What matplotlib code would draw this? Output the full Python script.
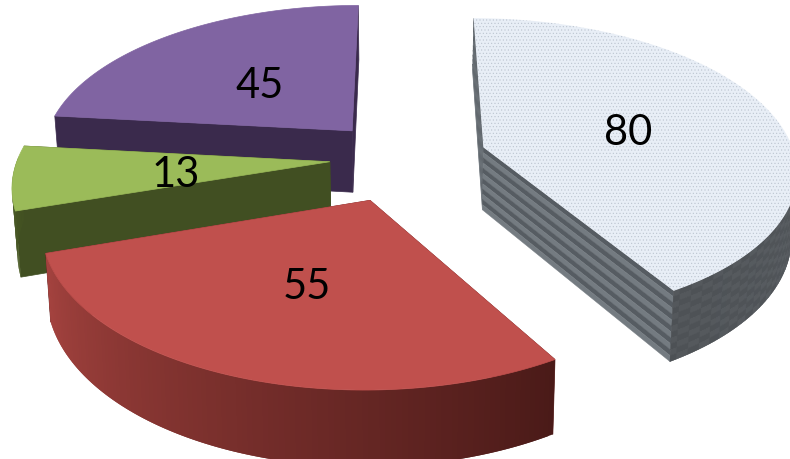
import numpy as np
import matplotlib
matplotlib.use('Agg')
import matplotlib.pyplot as plt
from matplotlib.patches import Polygon
from matplotlib.colors import to_rgb

plt.rcParams['hatch.linewidth'] = 0.4

# slices, clockwise from 12 o'clock
values = [80, 55, 13, 45]
top_colors = ['#e8eef6', '#c0504d', '#9bbb59', '#8064a2']
face_colors = ['#6a7278', '#5c2220', '#414f22', '#3a2a4c']
rim_light = ['#666c72', '#a5433f', '#4e5f28', '#44325a']
rim_dark = ['#54585c', '#4a1a18', '#414f22', '#3a2a4c']
explode = [0.27, 0.29, 0.235, 0.25]
label_r = [0.5, 0.5, 0.49, 0.49]

# fake 3d camera
cx, cy = 403, 159
A, B, D = 312, 150, 63
persp = 0.14
conv = 0.014
n_bands = 12


def project(x, y, z=0.0):
    w = 1 + persp * y
    px = cx + A * x / w * (1 - conv * z)
    py = cy - B * y / w + D * z / w
    return px, py


fig = plt.figure(figsize=(7.9, 4.6), dpi=100)
ax = fig.add_axes([0, 0, 1, 1])
ax.set_xlim(0, 790)
ax.set_ylim(460, 0)
ax.axis('off')


def mix(c1, c2, t):
    c1, c2 = np.array(to_rgb(c1)), np.array(to_rgb(c2))
    return tuple(c1 + (c2 - c1) * t)


edges = np.cumsum([0] + values) / sum(values) * 2 * np.pi
labels_at = {}

for i in [3, 2, 1, 0]:
    t0, t1 = edges[i], edges[i + 1]
    mid = (t0 + t1) / 2
    ex, ey = explode[i] * np.sin(mid), explode[i] * np.cos(mid)
    ang = np.linspace(t0, t1, 120)
    rim_x = ex + np.sin(ang)
    rim_y = ey + np.cos(ang)
    striped = i == 0

    # cut faces
    for t in (t0, t1):
        ox, oy = ex + np.sin(t), ey + np.cos(t)
        if striped:
            zs = np.linspace(0, 1, n_bands + 1)
            for k in range(n_bands):
                q = [project(ex, ey, zs[k]), project(ox, oy, zs[k]),
                     project(ox, oy, zs[k + 1]), project(ex, ey, zs[k + 1])]
                col = '#565c62' if k % 2 == 0 else '#747b81'
                ax.add_patch(Polygon(q, fc=col, ec=col, lw=0.3))
        else:
            q = [project(ex, ey), project(ox, oy),
                 project(ox, oy, 1), project(ex, ey, 1)]
            ax.add_patch(Polygon(q, fc=face_colors[i], ec=face_colors[i], lw=0.5))

    # outer wall, only the part that faces us
    for k in range(len(ang) - 1):
        if np.cos(ang[k]) > 0.03 and np.cos(ang[k + 1]) > 0.03:
            continue
        f = (k + 0.5) / (len(ang) - 1)
        if i == 1:
            f = 1 - f  # red gets darker towards the right
        base = mix(rim_light[i], rim_dark[i], f)
        # overlap the next quad a bit so no seams show
        k2 = min(k + 2, len(ang) - 1)
        if striped:
            zs = np.linspace(0, 1, n_bands + 1)
            for m in range(n_bands):
                q = [project(rim_x[k], rim_y[k], zs[m]),
                     project(rim_x[k2], rim_y[k2], zs[m]),
                     project(rim_x[k2], rim_y[k2], zs[m + 1]),
                     project(rim_x[k], rim_y[k], zs[m + 1])]
                col = mix(base, '#3e4246', 0.3) if (m + k // 2) % 2 == 0 else base
                ax.add_patch(Polygon(q, fc=col, ec=col, lw=0.2))
        else:
            q = [project(rim_x[k], rim_y[k]),
                 project(rim_x[k2], rim_y[k2]),
                 project(rim_x[k2], rim_y[k2], 1),
                 project(rim_x[k], rim_y[k], 1)]
            ax.add_patch(Polygon(q, fc=base, ec='none', lw=0))

    # top surface
    outline = [project(ex, ey)] + [project(a, b) for a, b in zip(rim_x, rim_y)]
    if striped:
        ax.add_patch(Polygon(outline, fc=top_colors[i], ec='#bcc4cf', lw=0,
                             hatch='.....'))
    else:
        ax.add_patch(Polygon(outline, fc=top_colors[i], ec=top_colors[i], lw=0.5))

    labels_at[i] = project(ex + label_r[i] * np.sin(mid), ey + label_r[i] * np.cos(mid))

for i, v in enumerate(values):
    x, y = labels_at[i]
    ax.text(x, y + 4, str(v), fontsize=30, family='Lato', color='black',
            ha='center', va='center')

fig.savefig('out.png', dpi=100)
